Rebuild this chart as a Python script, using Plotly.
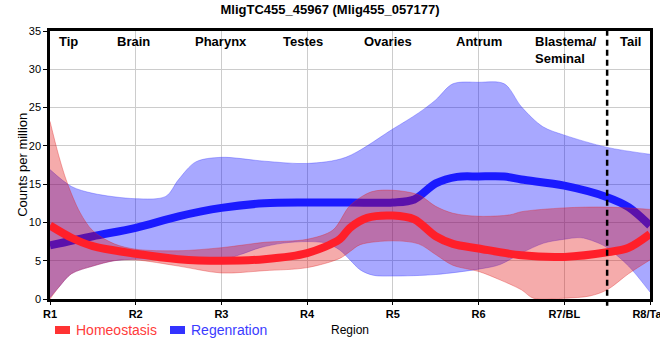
import plotly.graph_objects as go

# ---------------- data ----------------
region_ticks = ["R1", "R2", "R3", "R4", "R5", "R6", "R7/BL", "R8/Tail"]
region_names = ["Tip", "Brain", "Pharynx", "Testes", "Ovaries", "Antrum", "Blastema/<br>Seminal", "Tail"]

# Regeneration (blue)
reg_mean_x = [1, 1.5, 2, 2.5, 3, 3.5, 4, 4.5, 5, 5.25, 5.5, 5.75, 6, 6.3, 6.5, 7, 7.5, 7.75, 8]
reg_mean_y = [7.0, 8.2, 9.3, 10.8, 11.9, 12.5, 12.6, 12.6, 12.6, 13.0, 15.1, 15.95, 16.0, 16.0, 15.6, 14.8, 13.3, 12.0, 9.6]
reg_hi_x = [1, 1.25, 1.5, 2, 2.35, 2.5, 2.7, 3, 3.5, 4, 4.45, 5, 5.3, 5.5, 5.7, 6, 6.3, 6.5, 6.75, 7, 7.5, 8]
reg_hi_y = [16.9, 14.7, 13.8, 13.1, 13.4, 15.6, 17.9, 18.5, 18.0, 17.7, 18.5, 22.2, 24.3, 26.0, 28.1, 28.3, 28.1, 25.1, 22.5, 21.4, 19.8, 18.9]
reg_lo_x = [1, 1.1, 1.25, 1.5, 1.75, 2, 2.5, 3, 3.22, 3.45, 3.72, 4, 4.22, 4.38, 4.5, 4.62, 4.77, 5, 5.5, 6, 6.25, 6.5, 6.76, 7, 7.2, 7.42, 7.5, 7.75, 8]
reg_lo_y = [0.2, 1.5, 3.3, 4.3, 5.0, 5.2, 5.1, 5.1, 5.8, 6.7, 7.3, 7.5, 7.3, 6.4, 5.1, 3.8, 3.1, 3.0, 3.2, 3.9, 4.5, 6.0, 7.3, 7.8, 8.0, 7.2, 6.7, 4.3, 0.9]

# Homeostasis (red)
hom_mean_x = [1, 1.25, 1.5, 2, 2.5, 3, 3.5, 4, 4.38, 4.5, 4.7, 5, 5.25, 5.5, 5.7, 6, 6.5, 7, 7.5, 7.75, 8]
hom_mean_y = [9.6, 8.0, 6.9, 5.9, 5.2, 5.0, 5.2, 6.0, 7.8, 9.3, 10.6, 10.9, 10.4, 8.2, 7.2, 6.6, 5.7, 5.5, 6.1, 6.7, 8.5]
hom_hi_x = [1, 1.1, 1.2, 1.35, 1.5, 1.75, 2, 2.5, 3, 3.5, 4, 4.3, 4.5, 4.75, 5, 5.3, 5.5, 5.7, 6, 6.37, 6.5, 7, 7.5, 8]
hom_hi_y = [23.2, 18.8, 15.2, 11.3, 8.9, 7.2, 6.5, 6.3, 6.7, 7.4, 7.8, 9.0, 12.2, 14.0, 14.2, 13.6, 12.1, 11.2, 10.8, 11.0, 11.4, 11.9, 12.0, 11.7]
hom_lo_x = [1, 1.1, 1.25, 1.5, 1.75, 2, 2.5, 3, 3.5, 4, 4.38, 4.5, 4.62, 5, 5.3, 5.5, 5.7, 6, 6.25, 6.5, 6.64, 7, 7.3, 7.5, 7.75, 8]
hom_lo_y = [0.0, 1.5, 3.3, 4.3, 5.0, 5.1, 4.3, 3.4, 3.7, 4.1, 5.3, 6.2, 7.1, 7.6, 7.2, 5.8, 4.4, 3.6, 2.5, 1.2, 0.1, 0.1, 0.4, 1.2, 3.3, 5.1]

# ---------------- style ----------------
FONT = "Liberation Sans, Arial, sans-serif"
BLUE = "#1a1aff"
RED = "#ff1f2a"
BLUE_FILL = "rgba(0,0,255,0.34)"
RED_FILL = "rgba(225,0,0,0.33)"
BLUE_EDGE = "rgba(60,60,255,0.45)"
RED_EDGE = "rgba(225,40,40,0.45)"
SMOOTH = 0.9

fig = go.Figure()

def band(xl, yl, xh, yh, fill, edge):
    fig.add_trace(go.Scatter(x=xl, y=yl, mode="lines", line=dict(color=edge, width=0.8, shape="spline", smoothing=SMOOTH),
                             showlegend=False, hoverinfo="skip"))
    fig.add_trace(go.Scatter(x=xh, y=yh, mode="lines", line=dict(color=edge, width=0.8, shape="spline", smoothing=SMOOTH),
                             fill="tonexty", fillcolor=fill, showlegend=False, hoverinfo="skip"))

band(reg_lo_x, reg_lo_y, reg_hi_x, reg_hi_y, BLUE_FILL, BLUE_EDGE)
fig.add_trace(go.Scatter(x=reg_mean_x, y=reg_mean_y, mode="lines",
                         line=dict(color=BLUE, width=8, shape="spline", smoothing=SMOOTH), showlegend=False))
band(hom_lo_x, hom_lo_y, hom_hi_x, hom_hi_y, RED_FILL, RED_EDGE)
fig.add_trace(go.Scatter(x=hom_mean_x, y=hom_mean_y, mode="lines",
                         line=dict(color=RED, width=8, shape="spline", smoothing=SMOOTH), showlegend=False))

# region labels at the top
label_pos = [1.21, 1.97, 3.0, 3.95, 4.94, 6.0, 7.02, 7.77]
annotations = []
for name, xp in zip(region_names, label_pos):
    annotations.append(dict(x=xp, y=1, xref="x", yref="paper", text="<b>%s</b>" % name, showarrow=False,
                            xanchor="center", yanchor="top", align="left", yshift=-1,
                            font=dict(family=FONT, size=13, color="black")))

# axis titles
annotations.append(dict(x=0.5, y=-0.115, xref="paper", yref="paper", text="Region", showarrow=False,
                        xanchor="center", yanchor="middle", font=dict(family=FONT, size=12, color="black")))
annotations.append(dict(x=-0.047, y=0.5, xref="paper", yref="paper", text="Counts per million", showarrow=False,
                        textangle=-90, xanchor="center", yanchor="middle", font=dict(family=FONT, size=13, color="black")))

# legend
annotations.append(dict(x=0.04, y=-0.116, xref="paper", yref="paper", text="Homeostasis", showarrow=False,
                        xanchor="left", yanchor="middle", font=dict(family=FONT, size=14, color="#ff3b3b")))
annotations.append(dict(x=0.2317, y=-0.116, xref="paper", yref="paper", text="Regenration", showarrow=False,
                        xanchor="left", yanchor="middle", font=dict(family=FONT, size=14, color="#3b3bff")))

shapes = [
    dict(type="rect", xref="paper", yref="paper", x0=0.0083, x1=0.0333, y0=-0.1306, y1=-0.1007,
         fillcolor="#ff3333", line=dict(width=0)),
    dict(type="rect", xref="paper", yref="paper", x0=0.2, x1=0.225, y0=-0.1306, y1=-0.1007,
         fillcolor="#3333ff", line=dict(width=0)),
    dict(type="line", xref="x", yref="paper", x0=7.5, x1=7.5, y0=-0.025, y1=1,
         line=dict(color="black", width=2.5, dash="6px,4px")),
]

fig.update_layout(
    width=660, height=360,
    margin=dict(l=50, r=10, t=31, b=61, autoexpand=False),
    paper_bgcolor="white", plot_bgcolor="white",
    title=dict(text="<b>MligTC455_45967 (Mlig455_057177)</b>", x=0.5, xanchor="center", y=0.974, yanchor="middle",
               font=dict(family=FONT, size=13, color="black"), automargin=False),
    xaxis=dict(range=[1, 8], tickmode="array", tickvals=list(range(1, 9)), ticktext=["<b>%s</b>" % t for t in region_ticks],
               showgrid=True, gridcolor="#cccccc", gridwidth=1, zeroline=False, automargin=False,
               ticklabeloverflow="allow",
               showline=True, linecolor="black", linewidth=2.5, mirror=True,
               ticks="outside", ticklen=3, tickcolor="black",
               tickfont=dict(family=FONT, size=11, color="black")),
    yaxis=dict(range=[0, 35], tickmode="array", tickvals=[0, 5, 10, 15, 20, 25, 30, 35],
               showgrid=True, gridcolor="#cccccc", gridwidth=1, zeroline=False, automargin=False,
               showline=True, linecolor="black", linewidth=2.5, mirror=True,
               ticks="outside", ticklen=4, tickcolor="black",
               tickfont=dict(family=FONT, size=11, color="black")),
    annotations=annotations,
    shapes=shapes,
    showlegend=False,
)

fig.write_html("out.html", config={"displayModeBar": False},
               post_script="document.body.style.margin='0';")
